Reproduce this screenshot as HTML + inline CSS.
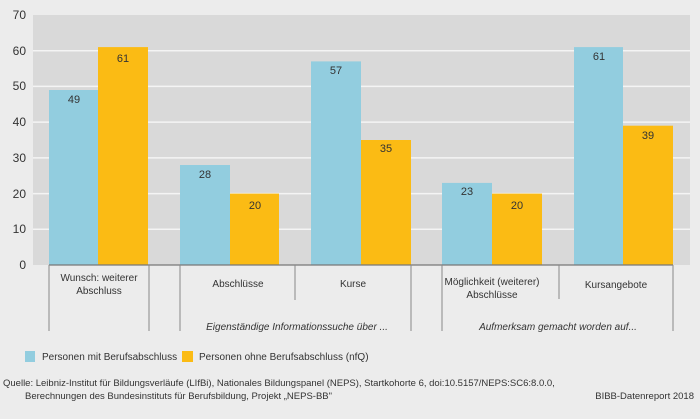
<!DOCTYPE html>
<html><head><meta charset="utf-8"><style>
html,body{margin:0;padding:0;background:#ececec}
svg{display:block}
text{font-family:"Liberation Sans Narrow","Liberation Sans",sans-serif;fill:#333}
</style></head><body>
<svg width="700" height="419" viewBox="0 0 700 419" xmlns="http://www.w3.org/2000/svg">
<rect width="700" height="419" fill="#ececec"/>
<rect x="33" y="15" width="657" height="250" fill="#d9d9d9"/>
<g stroke="#f4f4f4" stroke-width="1.5">
<line x1="33" y1="229.3" x2="690" y2="229.3"/>
<line x1="33" y1="193.6" x2="690" y2="193.6"/>
<line x1="33" y1="157.9" x2="690" y2="157.9"/>
<line x1="33" y1="122.1" x2="690" y2="122.1"/>
<line x1="33" y1="86.4" x2="690" y2="86.4"/>
<line x1="33" y1="50.7" x2="690" y2="50.7"/>
</g>
<g font-size="12" text-anchor="end">
<text x="26" y="269">0</text><text x="26" y="233">10</text><text x="26" y="198">20</text>
<text x="26" y="162">30</text><text x="26" y="126">40</text><text x="26" y="90">50</text>
<text x="26" y="55">60</text><text x="26" y="19">70</text>
</g>
<g fill="#92cddf">
<rect x="49" y="90" width="49" height="175"/>
<rect x="180" y="165" width="50" height="100"/>
<rect x="311" y="61.4" width="50" height="203.6"/>
<rect x="442" y="182.9" width="50" height="82.1"/>
<rect x="574" y="47.1" width="49" height="217.9"/>
</g>
<g fill="#fbbb14">
<rect x="98" y="47.1" width="50" height="217.9"/>
<rect x="230" y="193.6" width="49" height="71.4"/>
<rect x="361" y="140" width="50" height="125"/>
<rect x="492" y="193.6" width="50" height="71.4"/>
<rect x="623" y="125.7" width="50" height="139.3"/>
</g>
<g font-size="11" text-anchor="middle" fill="#222">
<text x="74" y="103">49</text><text x="123" y="62">61</text>
<text x="205" y="178">28</text><text x="255" y="209">20</text>
<text x="336" y="74">57</text><text x="386" y="152">35</text>
<text x="467" y="195">23</text><text x="517" y="209">20</text>
<text x="599" y="60">61</text><text x="648" y="139">39</text>
</g>
<line x1="49" y1="265" x2="673" y2="265" stroke="#777" stroke-width="1.2"/>
<g stroke="#888" stroke-width="1">
<line x1="49" y1="265" x2="49" y2="331"/>
<line x1="149" y1="265" x2="149" y2="331"/>
<line x1="180" y1="265" x2="180" y2="331"/>
<line x1="295" y1="265" x2="295" y2="300"/>
<line x1="411" y1="265" x2="411" y2="331"/>
<line x1="442" y1="265" x2="442" y2="331"/>
<line x1="559" y1="265" x2="559" y2="299"/>
<line x1="673" y1="265" x2="673" y2="331"/>
</g>
<g font-size="10" text-anchor="middle">
<text x="99" y="281">Wunsch: weiterer</text><text x="99" y="294">Abschluss</text>
<text x="238" y="287">Abschlüsse</text>
<text x="353" y="287">Kurse</text>
<text x="492" y="285">Möglichkeit (weiterer)</text><text x="492" y="298">Abschlüsse</text>
<text x="616" y="288">Kursangebote</text>
<text x="297" y="330" font-style="italic">Eigenständige Informationssuche über ...</text>
<text x="558" y="330" font-style="italic">Aufmerksam gemacht worden auf...</text>
</g>
<rect x="25" y="351" width="10" height="11" fill="#92cddf"/>
<text x="42" y="360" font-size="10">Personen mit Berufsabschluss</text>
<rect x="182" y="351" width="11" height="11" fill="#fbbb14"/>
<text x="199" y="360" font-size="10">Personen ohne Berufsabschluss (nfQ)</text>
<g font-size="9.5">
<text x="3" y="386">Quelle: Leibniz-Institut für Bildungsverläufe (LIfBi), Nationales Bildungspanel (NEPS), Startkohorte 6, doi:10.5157/NEPS:SC6:8.0.0,</text>
<text x="25" y="399">Berechnungen des Bundesinstituts für Berufsbildung, Projekt „NEPS-BB"</text>
<text x="694" y="399" text-anchor="end">BIBB-Datenreport 2018</text>
</g>
</svg>
</body></html>
